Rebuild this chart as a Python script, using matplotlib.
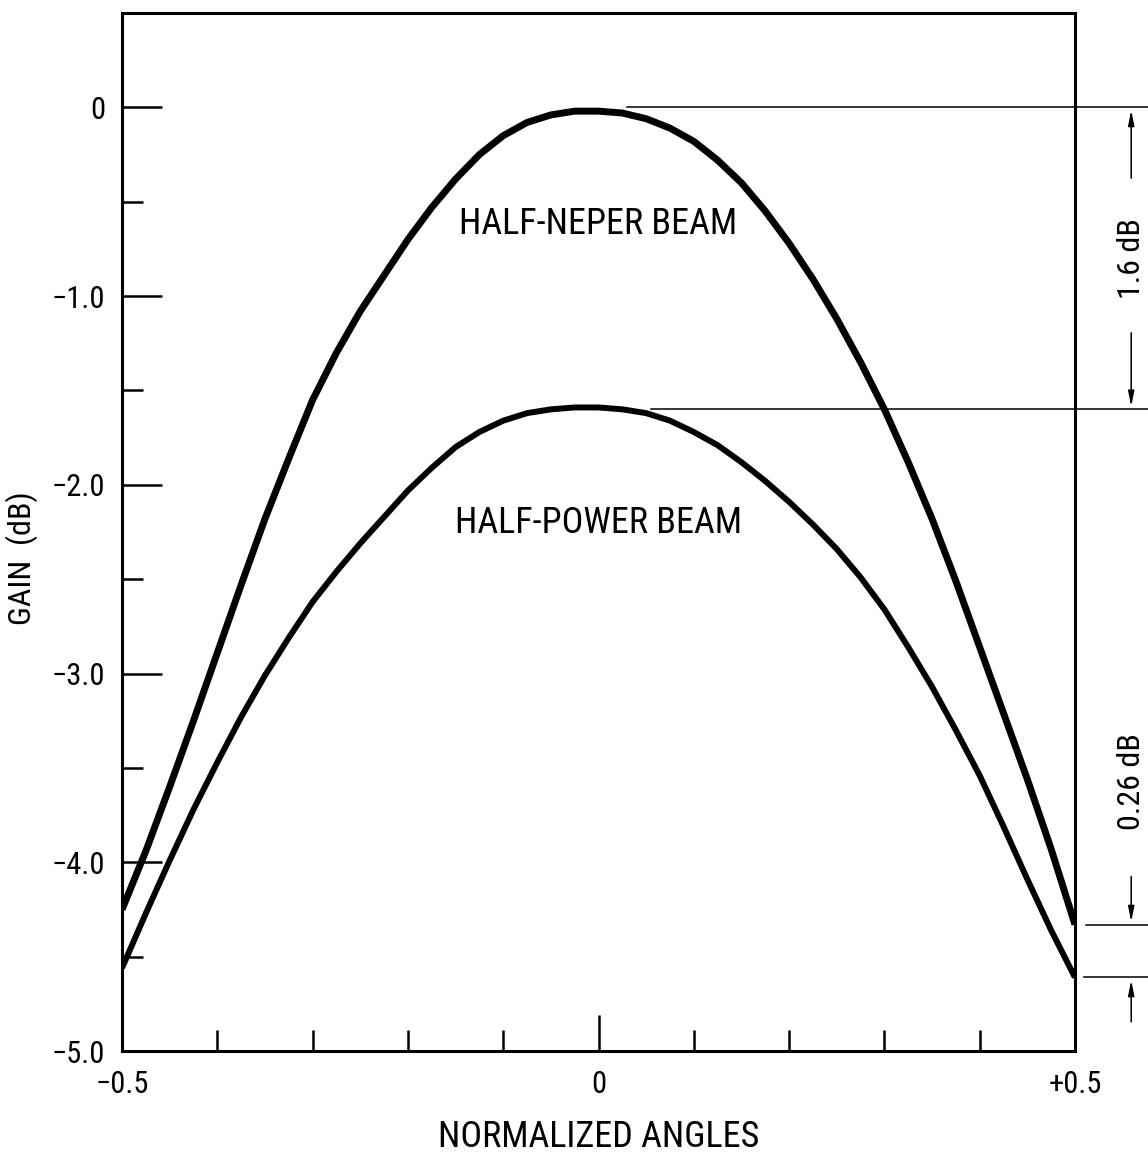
import matplotlib
matplotlib.use('Agg')
import matplotlib.pyplot as plt

plt.rcParams['font.family'] = ['Roboto Condensed', 'DejaVu Sans']
plt.rcParams['font.stretch'] = 'condensed'

# normalized angle and gain (dB)
angles = [-0.500, -0.475, -0.450, -0.425, -0.400, -0.375, -0.350, -0.325, -0.300, -0.275,
          -0.250, -0.225, -0.200, -0.175, -0.150, -0.125, -0.100, -0.075, -0.050, -0.025,
          0.000, 0.025, 0.050, 0.075, 0.100, 0.125, 0.150, 0.175, 0.200, 0.225,
          0.250, 0.275, 0.300, 0.325, 0.350, 0.375, 0.400, 0.425, 0.450, 0.475, 0.500]
half_neper = [-4.25, -3.94, -3.60, -3.25, -2.89, -2.53, -2.18, -1.86, -1.55, -1.30,
              -1.08, -0.89, -0.70, -0.53, -0.38, -0.25, -0.15, -0.08, -0.04, -0.02,
              -0.02, -0.03, -0.06, -0.11, -0.18, -0.28, -0.40, -0.55, -0.72, -0.91,
              -1.12, -1.35, -1.60, -1.88, -2.18, -2.51, -2.86, -3.21, -3.56, -3.93, -4.33]
half_power = [-4.56, -4.27, -3.99, -3.72, -3.47, -3.23, -3.01, -2.81, -2.62, -2.46,
              -2.31, -2.17, -2.03, -1.91, -1.80, -1.72, -1.66, -1.62, -1.60, -1.59,
              -1.59, -1.60, -1.62, -1.66, -1.72, -1.79, -1.88, -1.98, -2.09, -2.21,
              -2.34, -2.49, -2.66, -2.86, -3.07, -3.30, -3.54, -3.81, -4.09, -4.36, -4.61]

peak_gap = 1.6
edge_gap = 0.26

fig = plt.figure(figsize=(11.48, 11.61), dpi=100)
ax = fig.add_axes([0.1063, 0.0947, 0.8301, 0.8941])

ax.plot(angles, half_neper, color='black', lw=5.0, solid_capstyle='butt', solid_joinstyle='round')
ax.plot(angles, half_power, color='black', lw=4.3, solid_capstyle='butt', solid_joinstyle='round')

ax.set_xlim(-0.5, 0.5)
ax.set_ylim(-5.0, 0.5)

for s in ax.spines.values():
    s.set_linewidth(2.2)

# y ticks
ax.set_yticks([0, -1, -2, -3, -4, -5])
ax.set_yticklabels(['0', '\u22121.0', '\u22122.0', '\u22123.0', '\u22124.0', '\u22125.0'])
ax.set_yticks([-0.5, -1.5, -2.5, -3.5, -4.5], minor=True)
ax.tick_params(axis='y', which='major', direction='in', length=29, width=1.8,
               labelsize=22, pad=12)
ax.tick_params(axis='y', which='minor', direction='in', length=15, width=1.8)

# x ticks
ax.set_xticks([-0.5, 0, 0.5])
ax.set_xticklabels(['\u22120.5', '0', '+0.5'])
ax.set_xticks([-0.4, -0.3, -0.2, -0.1, 0.1, 0.2, 0.3, 0.4], minor=True)
ax.tick_params(axis='x', which='major', direction='in', length=26, width=1.8,
               labelsize=22, pad=14)
ax.tick_params(axis='x', which='minor', direction='in', length=15, width=1.8)
ax.tick_params(right=False, top=False)

ax.set_xlabel('NORMALIZED ANGLES', fontsize=26, va='center')
ax.xaxis.set_label_coords(0.5, -0.083)
ax.set_ylabel('GAIN  (dB)', fontsize=23, va='center')
ax.yaxis.set_label_coords(-0.105, 0.475)

ax.text(0.0, -0.62, 'HALF-NEPER BEAM', fontsize=26, ha='center', va='center')
ax.text(0.0, -2.2, 'HALF-POWER BEAM', fontsize=26, ha='center', va='center')

# reference lines to the right
ax.plot([0.03, 0.58], [0, 0], color='black', lw=1.1, clip_on=False)
ax.plot([0.055, 0.58], [-peak_gap, -peak_gap], color='black', lw=1.1, clip_on=False)
ax.plot([0.512, 0.58], [half_neper[-1], half_neper[-1]], color='black', lw=1.1, clip_on=False)
ax.plot([0.509, 0.58], [half_power[-1], half_power[-1]], color='black', lw=1.1, clip_on=False)

xa = 0.559
arw = dict(arrowstyle='-|>,head_length=0.9,head_width=0.18', color='black', lw=1.1)
ax.annotate('', xy=(xa, 0), xytext=(xa, -0.39), arrowprops=arw, annotation_clip=False)
ax.annotate('', xy=(xa, -peak_gap), xytext=(xa, -1.18), arrowprops=arw, annotation_clip=False)
ax.text(xa, -0.80, '%.1f dB' % peak_gap, rotation=90, fontsize=23, ha='center', va='center',
        clip_on=False)

ax.annotate('', xy=(xa, half_neper[-1]), xytext=(xa, -4.06), arrowprops=arw, annotation_clip=False)
ax.annotate('', xy=(xa, half_power[-1]), xytext=(xa, -4.86), arrowprops=arw, annotation_clip=False)
ax.text(xa, -3.57, '%.2f dB' % edge_gap, rotation=90, fontsize=23, ha='center', va='center',
        clip_on=False)

plt.savefig('out.png', dpi=100)
